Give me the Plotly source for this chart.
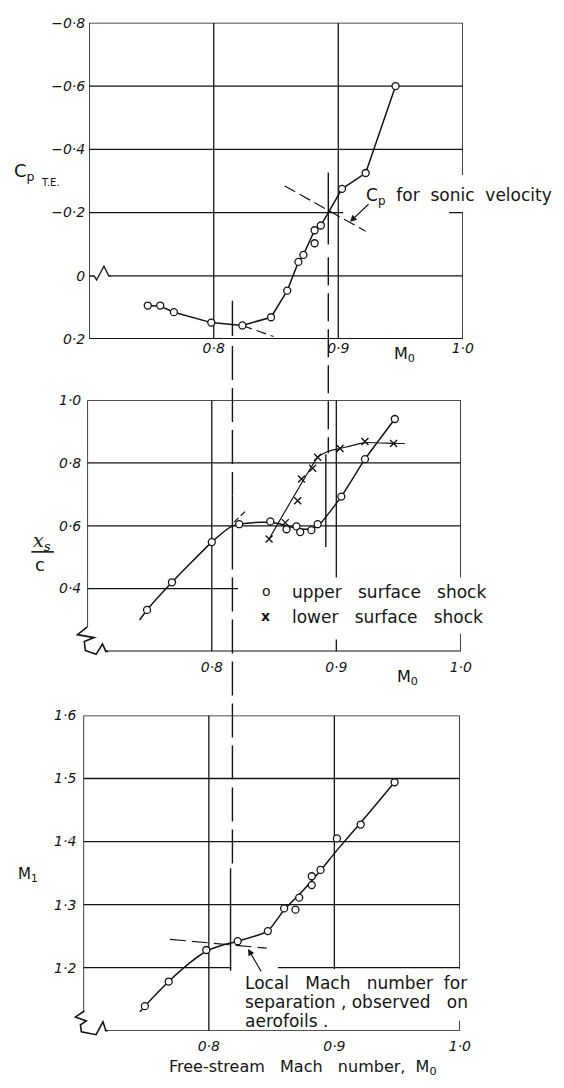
import plotly.graph_objects as go

W, H = 564, 1088

# ---------------- data ----------------
# Trailing-edge pressure coefficient against free-stream Mach number
cp_m0 = [0.747, 0.757, 0.768, 0.798, 0.823, 0.846, 0.859, 0.868, 0.872,
         0.881, 0.881, 0.886, 0.903, 0.922, 0.946]
cp_te = [0.094, 0.094, 0.115, 0.148, 0.157, 0.131, 0.047, -0.044, -0.066,
         -0.144, -0.103, -0.159, -0.275, -0.325, -0.600]
cp_fair_m0 = [0.747, 0.757, 0.768, 0.798, 0.823, 0.846, 0.859, 0.868, 0.872,
              0.881, 0.886, 0.903, 0.922, 0.946]
cp_fair = [0.094, 0.096, 0.115, 0.148, 0.157, 0.131, 0.047, -0.044, -0.066,
           -0.144, -0.159, -0.275, -0.325, -0.600]
cp_trend_m0 = [0.823, 0.848]
cp_trend = [0.157, 0.192]
cp_sonic_m0 = [0.857, 0.922]
cp_sonic = [-0.284, -0.141]

# Shock position x_s/c
up_m0 = [0.748, 0.768, 0.800, 0.822, 0.847, 0.860, 0.868, 0.871, 0.880,
         0.885, 0.904, 0.923, 0.947]
up_xs = [0.332, 0.420, 0.548, 0.605, 0.614, 0.589, 0.598, 0.580, 0.586,
         0.605, 0.693, 0.812, 0.940]
up_fair_m0 = [0.742, 0.748, 0.768, 0.800, 0.816, 0.826, 0.840, 0.852, 0.862,
              0.872, 0.880, 0.886, 0.904, 0.923, 0.947]
up_fair = [0.300, 0.332, 0.420, 0.548, 0.598, 0.607, 0.611, 0.608, 0.598,
           0.590, 0.590, 0.602, 0.693, 0.812, 0.940]
up_trend_m0 = [0.818, 0.828]
up_trend = [0.612, 0.650]

lo_m0 = [0.846, 0.859, 0.869, 0.872, 0.881, 0.885, 0.903, 0.923, 0.946]
lo_xs = [0.558, 0.610, 0.680, 0.749, 0.783, 0.818, 0.846, 0.868, 0.862]
lo_fair_m0 = [0.846, 0.885, 0.890, 0.896, 0.903, 0.923, 0.946, 0.955]
lo_fair = [0.558, 0.818, 0.831, 0.840, 0.846, 0.865, 0.862, 0.862]

# Local Mach number ahead of the shock
m1_m0 = [0.749, 0.768, 0.798, 0.823, 0.847, 0.860, 0.869, 0.872, 0.882,
         0.882, 0.889, 0.902, 0.921, 0.948]
m1 = [1.139, 1.178, 1.228, 1.242, 1.258, 1.294, 1.292, 1.311, 1.331,
      1.345, 1.355, 1.405, 1.427, 1.494]
m1_fair_m0 = [0.745, 0.749, 0.768, 0.785, 0.798, 0.811, 0.823, 0.847, 0.860,
              0.872, 0.882, 0.889, 0.902, 0.921, 0.948]
m1_fair = [1.130, 1.139, 1.178, 1.208, 1.226, 1.236, 1.242, 1.258, 1.292,
           1.316, 1.338, 1.354, 1.386, 1.430, 1.494]
m1_tan_m0 = [0.769, 0.846]
m1_tan = [1.245, 1.231]

# Mach numbers marked by the vertical construction lines
M_SEP = 0.815
M_SONIC = 0.892

x_ticks = [0.8, 0.9, 1.0]
x_ticktext = ["0·8", "0·9", "1·0"]
cp_ticks = [-0.8, -0.6, -0.4, -0.2, 0.0, 0.2]
cp_ticktext = ["\u22120·8", "\u22120·6", "\u22120·4", "\u22120·2", "0", "0·2"]
xs_ticks = [1.0, 0.8, 0.6, 0.4]
xs_ticktext = ["1·0", "0·8", "0·6", "0·4"]
m1_ticks = [1.6, 1.5, 1.4, 1.3, 1.2]
m1_ticktext = ["1·6", "1·5", "1·4", "1·3", "1·2"]

# ---------------- styling helpers ----------------
INK = "#141414"
FONT = "DejaVu Sans"
TICKFONT = dict(family=FONT, size=14, color=INK, style="italic")


def py(p):
    return 1 - p / H


def pxx(p):
    return p / W


fig = go.Figure()

marker_o = dict(symbol="circle", size=7, color="white",
                line=dict(color=INK, width=1.3))
marker_x = dict(symbol="x-thin-open", size=7, color=INK,
                line=dict(color=INK, width=1.4))

# top panel
fig.add_trace(go.Scatter(x=cp_fair_m0, y=cp_fair, mode="lines",
                         line=dict(color=INK, width=1.5), xaxis="x", yaxis="y"))
fig.add_trace(go.Scatter(x=cp_trend_m0, y=cp_trend, mode="lines",
                         line=dict(color=INK, width=1.2, dash="10px,5px"),
                         xaxis="x", yaxis="y"))
fig.add_trace(go.Scatter(x=cp_sonic_m0, y=cp_sonic, mode="lines",
                         line=dict(color=INK, width=1.2, dash="12px,5px"),
                         xaxis="x", yaxis="y"))
fig.add_trace(go.Scatter(x=cp_m0, y=cp_te, mode="markers", marker=marker_o,
                         xaxis="x", yaxis="y"))

# middle panel
fig.add_trace(go.Scatter(x=up_fair_m0, y=up_fair, mode="lines",
                         line=dict(color=INK, width=1.5, shape="spline", smoothing=0.5),
                         xaxis="x2", yaxis="y2"))
fig.add_trace(go.Scatter(x=up_trend_m0, y=up_trend, mode="lines",
                         line=dict(color=INK, width=1.2, dash="6px,3px"),
                         xaxis="x2", yaxis="y2"))
fig.add_trace(go.Scatter(x=lo_fair_m0, y=lo_fair, mode="lines",
                         line=dict(color=INK, width=1.2, shape="spline", smoothing=0.4),
                         xaxis="x2", yaxis="y2"))
fig.add_trace(go.Scatter(x=lo_m0, y=lo_xs, mode="markers", marker=marker_x,
                         xaxis="x2", yaxis="y2"))
fig.add_trace(go.Scatter(x=up_m0, y=up_xs, mode="markers", marker=marker_o,
                         xaxis="x2", yaxis="y2"))

# bottom panel
fig.add_trace(go.Scatter(x=m1_tan_m0, y=m1_tan, mode="lines",
                         line=dict(color=INK, width=1.2, dash="16px,6px"),
                         xaxis="x3", yaxis="y3"))
fig.add_trace(go.Scatter(x=m1_fair_m0, y=m1_fair, mode="lines",
                         line=dict(color=INK, width=1.5, shape="spline", smoothing=0.5),
                         xaxis="x3", yaxis="y3"))
fig.add_trace(go.Scatter(x=m1_m0, y=m1, mode="markers", marker=marker_o,
                         xaxis="x3", yaxis="y3"))

shapes = []


def seg(xr, yr, x0, y0, x1, y1, width=1.5, dash=None):
    line = dict(color=INK, width=width)
    if dash:
        line["dash"] = dash
    shapes.append(dict(type="line", xref=xr, yref=yr, x0=x0, y0=y0,
                       x1=x1, y1=y1, line=line, layer="below"))


def path(points, width=1.5):
    d = "M " + " L ".join(f"{pxx(a):.5f},{py(b):.5f}" for a, b in points)
    shapes.append(dict(type="path", xref="paper", yref="paper", path=d,
                       line=dict(color=INK, width=width), layer="below"))


GW = 1.3   # grid line width
SW = 1.6   # frame line width

# ----- top panel frame and grid -----
seg("x", "y", 0.7, 0.2, 0.7, -0.8, SW)
seg("x", "y", 0.7, -0.8, 1.0, -0.8, SW)
seg("x", "y", 0.7, 0.2, 1.0, 0.2, 2.0)
seg("x", "y", 1.0, -0.8, 1.0, -0.319, SW)
seg("x", "y", 1.0, -0.2, 1.0, 0.2, SW)
for gx in (0.8, 0.9):
    seg("x", "y", gx, 0.2, gx, -0.8, GW)
for gy in (-0.6, -0.4):
    seg("x", "y", 0.7, gy, 1.0, gy, GW)
seg("x", "y", 0.7, -0.2, 0.904, -0.2, GW)
seg("x", "y", 0.989, -0.2, 1.0, -0.2, GW)
seg("x", "y", 0.7165, 0.0, 1.0, 0.0, GW)
path([(91, 272), (96, 272), (98.5, 276), (106, 262), (111, 272), (113, 272)], GW)

# ----- middle panel frame and grid -----
seg("x2", "y2", 0.7, 1.0, 1.0, 1.0, SW)
seg("x2", "y2", 0.7, 1.0, 0.7, 0.278, SW)
seg("x2", "y2", 0.714, 0.2, 1.0, 0.2, SW)
seg("x2", "y2", 1.0, 1.0, 1.0, 0.435, SW)
seg("x2", "y2", 1.0, 0.256, 1.0, 0.2, SW)
seg("x2", "y2", 0.8, 1.0, 0.8, 0.2, GW)
seg("x2", "y2", 0.9, 1.0, 0.9, 0.435, GW)
seg("x2", "y2", 0.9, 0.238, 0.9, 0.2, GW)
for gy in (0.8, 0.6):
    seg("x2", "y2", 0.7, gy, 1.0, gy, GW)
seg("x2", "y2", 0.7, 0.4, 0.821, 0.4, GW)
path([(89, 628), (79, 636), (96, 639), (86, 643), (87, 652), (98, 656),
      (104.5, 645.5), (108, 653), (110, 653)], SW)

# ----- bottom panel frame and grid -----
seg("x3", "y3", 0.7, 1.6, 1.0, 1.6, SW)
seg("x3", "y3", 0.7, 1.6, 0.7, 1.131, SW)
seg("x3", "y3", 0.717, 1.1, 1.0, 1.1, SW)
seg("x3", "y3", 1.0, 1.6, 1.0, 1.198, SW)
seg("x3", "y3", 1.0, 1.116, 1.0, 1.1, SW)
seg("x3", "y3", 0.8, 1.6, 0.8, 1.1, GW)
seg("x3", "y3", 0.9, 1.6, 0.9, 1.198, GW)
for gy in (1.5, 1.4, 1.3):
    seg("x3", "y3", 0.7, gy, 1.0, gy, GW)
seg("x3", "y3", 0.7, 1.2, 0.818, 1.2, GW)
seg("x3", "y3", 0.855, 1.2, 1.0, 1.2, GW)
path([(86, 1018), (77, 1024), (88, 1028), (82, 1032), (83, 1039), (98, 1042),
      (105, 1029), (108, 1038), (110, 1038)], SW)

# ----- construction lines through all three panels -----
DASH_LONG = "34px,8px"
seg("x", "paper", M_SEP, py(297), M_SEP, py(333), 1.4)
seg("x", "paper", M_SEP, py(343), M_SEP, py(495), 1.4, DASH_LONG)
seg("x", "paper", M_SEP, py(495), M_SEP, py(570), 1.4)
seg("x", "paper", M_SEP, py(578), M_SEP, py(872), 1.4, DASH_LONG)
seg("x", "paper", M_SEP - 0.0015, py(873), M_SEP - 0.0015, py(977), 1.4)

seg("x", "paper", M_SONIC, py(167), M_SONIC, py(240), 1.4)
seg("x", "paper", M_SONIC, py(253), M_SONIC, py(452), 1.4, "28px,8px")
seg("x", "paper", M_SONIC - 0.002, py(453), M_SONIC - 0.002, py(547), 1.4)

annotations = []


def note(text, x, y, size=14, xanchor="center", yanchor="middle", **kw):
    font = dict(family=FONT, size=size, color=INK)
    font.update(kw.pop("font", {}))
    annotations.append(dict(text=text, x=pxx(x), y=py(y), xref="paper",
                            yref="paper", showarrow=False, xanchor=xanchor,
                            yanchor=yanchor, font=font, **kw))


def arrow(head, tail):
    annotations.append(dict(text="", x=pxx(head[0]), y=py(head[1]), xref="paper",
                            yref="paper", showarrow=True, arrowhead=2,
                            arrowsize=1.1, arrowwidth=1.2, arrowcolor=INK,
                            ax=tail[0] - head[0], ay=tail[1] - head[1],
                            standoff=0, startstandoff=0))


# axis titles
note("C<sub>p</sub>", 12, 166, 18, xanchor="left")
note("T.E.", 40, 177, 10, xanchor="left")
note("x<sub>s</sub>", 43, 541, 19, font=dict(family="DejaVu Serif", style="italic"))
shapes.append(dict(type="line", xref="paper", yref="paper", x0=pxx(32), x1=pxx(55),
                   y0=py(552), y1=py(552), line=dict(color=INK, width=1.6)))
note("c", 41, 565, 18)
note("M<sub>1</sub>", 29, 879, 15)
note("M<sub>0</sub>", 413, 352, 16)
note("M<sub>0</sub>", 416, 679, 16)
note("Free-stream   Mach   number,  M<sub>0</sub>", 309, 1075, 16)

# callouts
note("C<sub>p</sub>  for  sonic  velocity", 371, 191, 17, xanchor="left")
arrow((357, 217), (377, 198))
note("o", 272, 592, 14)
note("upper   surface   shock", 296, 593, 17, xanchor="left")
note("<b>x</b>", 271, 617, 14)
note("lower   surface   shock", 296, 618, 17, xanchor="left")
note("Local   Mach   number  for", 248, 990, 17, xanchor="left")
note("separation , observed   on", 248, 1009, 17, xanchor="left")
note("aerofoils .", 248, 1028, 17, xanchor="left")
arrow((253, 955), (267, 979))

fig.update_layout(
    width=W, height=H,
    margin=dict(l=0, r=0, t=0, b=0),
    paper_bgcolor="white", plot_bgcolor="rgba(0,0,0,0)",
    showlegend=False,
    shapes=shapes, annotations=annotations,
    font=dict(family=FONT, color=INK),
)

axis_common = dict(showgrid=False, zeroline=False, showline=False, ticks="",
                   tickfont=TICKFONT, fixedrange=True)

fig.update_layout(
    xaxis=dict(domain=[pxx(91), pxx(472)], range=[0.7, 1.0], anchor="y",
               tickvals=x_ticks, ticktext=x_ticktext, ticklabelstandoff=-1,
               **axis_common),
    yaxis=dict(domain=[py(336), py(15)], range=[0.2, -0.8], anchor="x",
               tickvals=cp_ticks, ticktext=cp_ticktext, ticklabelstandoff=3,
               **axis_common),
    xaxis2=dict(domain=[pxx(89), pxx(470)], range=[0.7, 1.0], anchor="y2",
                tickvals=x_ticks, ticktext=x_ticktext, ticklabelstandoff=6,
                **axis_common),
    yaxis2=dict(domain=[py(653), py(398)], range=[0.2, 1.0], anchor="x2",
                tickvals=xs_ticks, ticktext=xs_ticktext, ticklabelstandoff=5,
                **axis_common),
    xaxis3=dict(domain=[pxx(85), pxx(469)], range=[0.7, 1.0], anchor="y3",
                tickvals=x_ticks, ticktext=x_ticktext, ticklabelstandoff=5,
                **axis_common),
    yaxis3=dict(domain=[py(1038), py(718)], range=[1.1, 1.6], anchor="x3",
                tickvals=m1_ticks, ticktext=m1_ticktext, ticklabelstandoff=6,
                **axis_common),
)

fig.write_html("out.html")
